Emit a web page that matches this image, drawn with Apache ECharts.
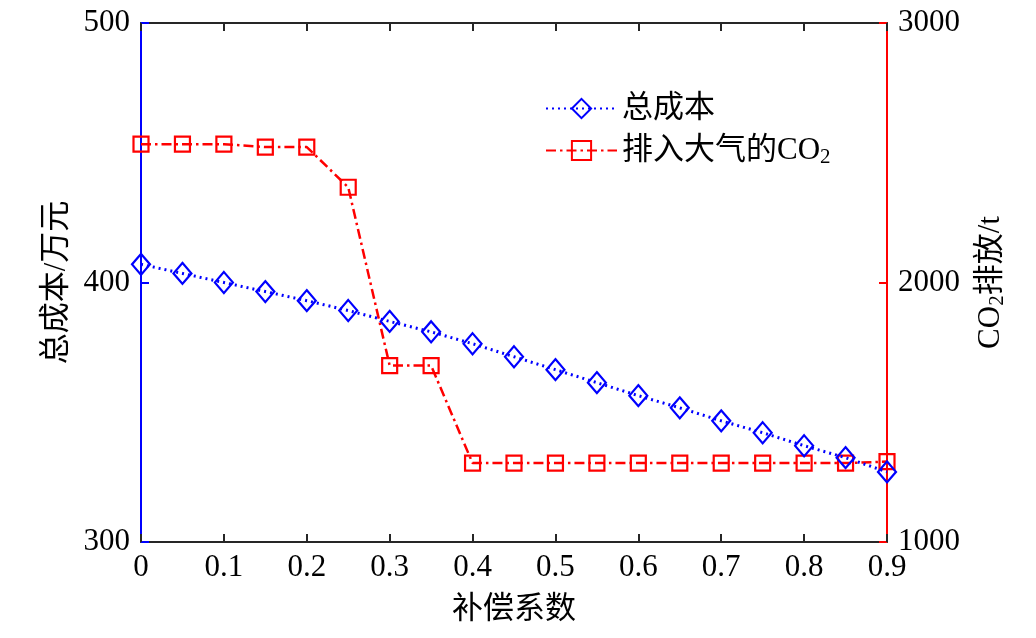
<!DOCTYPE html>
<html>
<head>
<meta charset="utf-8">
<script src="https://cdn.jsdelivr.net/npm/echarts@6/dist/echarts.min.js"></script>
<style>html,body{margin:0;padding:0;background:#fff}#c{width:1036px;height:638px}</style>
</head>
<body>
<div id="c"></div>
<script>
const xValues = [0, 0.05, 0.1, 0.15, 0.2, 0.25, 0.3, 0.35, 0.4, 0.45, 0.5, 0.55, 0.6, 0.65, 0.7, 0.75, 0.8, 0.85, 0.9];
const totalCost = [407, 403.5, 400, 396.5, 393, 389.2, 385, 381, 376.4, 371.4, 366.4, 361.4, 356.4, 351.7, 346.7, 342.1, 337.1, 332.5, 327];
const co2Emission = [2533, 2533, 2533, 2522, 2522, 2367, 1680, 1680, 1304, 1304, 1304, 1304, 1304, 1304, 1304, 1304, 1304, 1304, 1310];
const seriesNames = ['总成本', '排入大气的CO2'];
const xAxisName = '补偿系数';
const leftAxisName = '总成本/万元';

const FONT = '"Liberation Serif", "Times New Roman", "Noto Sans CJK SC", serif';
const BLUE = '#0000ff';
const RED = '#ff0000';
const AXIS = '#262626';
const FS = 31;

const chart = echarts.init(document.getElementById('c'), null, {renderer: 'canvas'});
const richBase = {
  b: {fontFamily: FONT, fontSize: FS, color: '#000'},
  s: {fontFamily: FONT, fontSize: 21, color: '#000', verticalAlign: 'bottom', padding: [14, 0, 0, 0]}
};
const fmt1 = v => String(+v.toFixed(1));
const fmtInt = v => String(v);

chart.setOption({
  animation: false,
  backgroundColor: '#fff',
  grid: {left: 141, right: 149, top: 23, bottom: 96, containLabel: false},
  legend: {
    orient: 'vertical', left: 540, top: 88,
    itemWidth: 71, itemHeight: 24, itemGap: 11,
    textStyle: {fontFamily: FONT, fontSize: FS, color: '#000', rich: richBase},
    formatter: name => name === seriesNames[1] ? '{b|排入大气的CO}{s|2}' : '{b|' + name + '}',
    data: seriesNames
  },
  xAxis: [{
    type: 'value', min: 0, max: 0.9, interval: 0.1, position: 'bottom',
    name: xAxisName, nameLocation: 'middle', nameGap: 52,
    nameTextStyle: {fontFamily: FONT, fontSize: FS, color: '#000'},
    axisLine: {show: true, onZero: false, lineStyle: {color: AXIS, width: 2}},
    axisTick: {show: true, inside: true, length: 8, lineStyle: {color: AXIS, width: 2}},
    axisLabel: {fontFamily: FONT, fontSize: FS, color: '#000', margin: 10, formatter: fmt1},
    splitLine: {show: false}
  }, {
    type: 'value', min: 0, max: 0.9, interval: 0.1, position: 'top',
    axisLine: {show: true, onZero: false, lineStyle: {color: AXIS, width: 2}},
    axisTick: {show: true, inside: true, length: 8, lineStyle: {color: AXIS, width: 2}},
    axisLabel: {show: false},
    splitLine: {show: false}
  }],
  yAxis: [{
    type: 'value', min: 300, max: 500, interval: 100, position: 'left',
    name: leftAxisName, nameLocation: 'middle', nameGap: 60, nameRotate: 90,
    nameTextStyle: {fontFamily: FONT, fontSize: FS, color: '#000'},
    axisLine: {show: true, onZero: false, lineStyle: {color: BLUE, width: 2}},
    axisTick: {show: true, inside: true, length: 8, lineStyle: {color: BLUE, width: 2}},
    axisLabel: {fontFamily: FONT, fontSize: FS, color: '#000', margin: 11, formatter: fmtInt},
    splitLine: {show: false}
  }, {
    type: 'value', min: 1000, max: 3000, interval: 1000, position: 'right',
    name: '{b|CO}{s|2}{b|排放/t}', nameLocation: 'middle', nameGap: 86, nameRotate: 90,
    nameTextStyle: {fontFamily: FONT, fontSize: FS, color: '#000', rich: richBase},
    axisLine: {show: true, onZero: false, lineStyle: {color: RED, width: 2}},
    axisTick: {show: true, inside: true, length: 8, lineStyle: {color: RED, width: 2}},
    axisLabel: {fontFamily: FONT, fontSize: FS, color: '#000', margin: 11, formatter: fmtInt},
    splitLine: {show: false}
  }],
  series: [{
    name: seriesNames[0], type: 'line', xAxisIndex: 0, yAxisIndex: 0,
    data: xValues.map((x, i) => [x, totalCost[i]]),
    symbol: 'diamond', symbolSize: [18, 21],
    itemStyle: {color: 'rgba(0,0,0,0)', borderColor: BLUE, borderWidth: 2.2},
    lineStyle: {color: BLUE, width: 3, type: [2, 4]},
    z: 3
  }, {
    name: seriesNames[1], type: 'line', xAxisIndex: 0, yAxisIndex: 1,
    data: xValues.map((x, i) => [x, co2Emission[i]]),
    symbol: 'rect', symbolSize: 15,
    itemStyle: {color: 'rgba(0,0,0,0)', borderColor: RED, borderWidth: 2.2},
    lineStyle: {color: RED, width: 2.5, type: [10, 4, 2.5, 4]},
    z: 2
  }]
});
</script>
</body>
</html>
